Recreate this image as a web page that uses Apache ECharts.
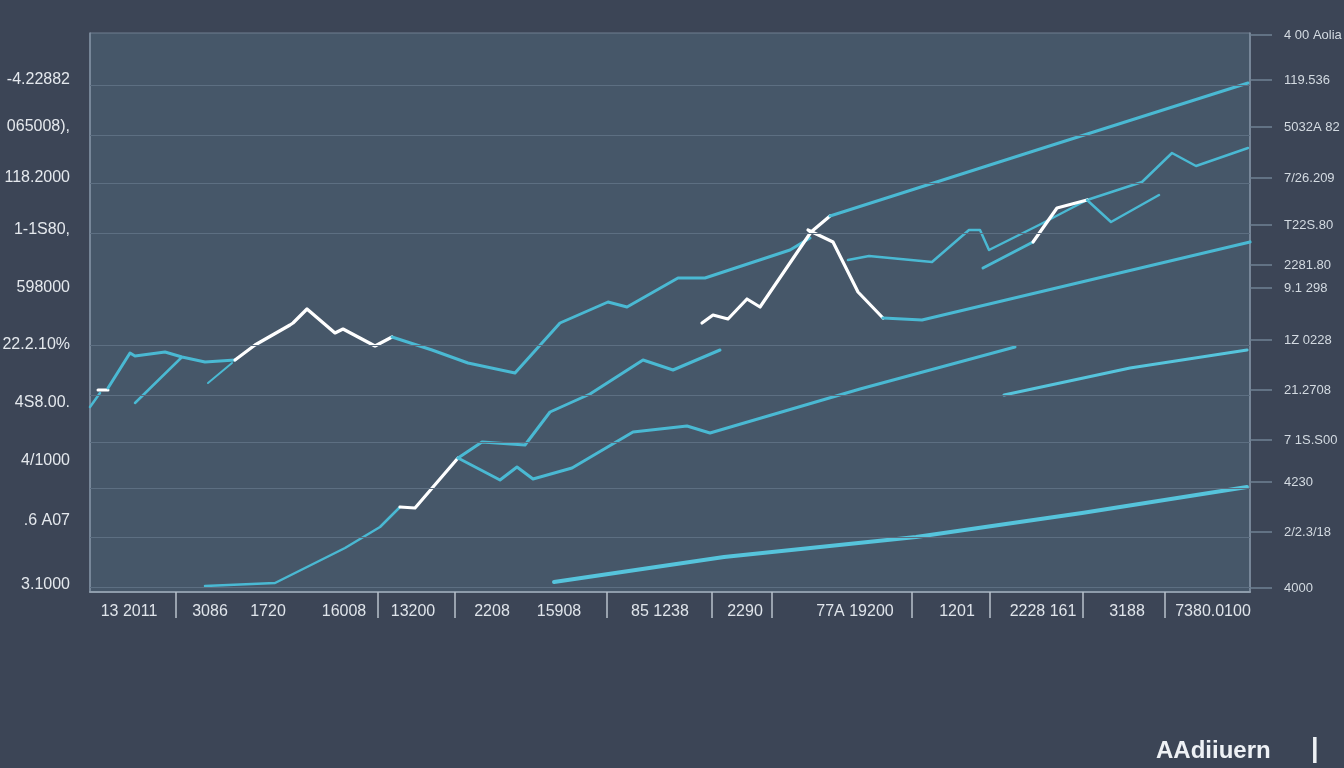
<!DOCTYPE html>
<html><head><meta charset="utf-8">
<script src="https://cdn.jsdelivr.net/npm/echarts@6/dist/echarts.min.js"></script>
<style>html,body{margin:0;padding:0;background:#3c4556;}#c{width:1344px;height:768px;}</style>
</head><body><div id="c"></div>
<script>
// ---- tick labels ----
const leftLabels = ['3.1000','.6 A07','4/1000','4S8.00.','22.2.10%','598000','1-1S80,','118.2000','065008),','-4.22882'];
const leftValues = [0.7,7.1,13.1,18.9,24.7,30.4,36.2,41.4,46.5,51.2];
const rightLabels = ['4000','2/2.3/18','4230','7 1S.S00','21.2708','1Z 0228','9.1 298','2281.80','T22S.80','7/26.209','5032A 82','119.536','4 00 Aolia'];
const rightValues = [0.4,6,11,15.2,20.2,25.2,30.4,32.7,36.7,41.4,46.5,51.2,55.7];
const bottomLabels = ['13 2011','3086','1720','16008','13200','2208','15908','85 1238','2290','77A 19200','1201','2228 161','3188','7380.0100'];
const bottomValues = [3.9,12,17.8,25.4,32.3,40.2,46.9,57,65.5,76.5,86.7,95.3,103.7,112.3];
const separatorValues = [8.6,28.8,36.5,51.7,62.2,68.2,82.2,90,99.3,107.5];
const gridValues = [0.5,5.5,10.4,15,19.7,24.7,35.9,40.9,45.7,50.7];

// ---- series values [x, y] ----
const upperLeftA = [[0,18.5],[1,19.9]];
const whiteTick = [[0.8,20.2],[1.8,20.2]];
const upperLeftB = [[1.8,20.4],[4,23.9],[4.5,23.6],[7.5,24],[9.2,23.5],[11.5,23],[14.5,23.2]];
const whiteHump = [[14.5,23.2],[16.5,24.7],[20,26.7],[20.3,26.9],[21.7,28.3],[24.5,25.9],[25.3,26.3],[28.5,24.6],[30.2,25.5]];
const upperMid = [[30.2,25.5],[34.2,24.2],[37.8,22.9],[42.5,21.9],[47,26.9],[51.8,29],[53.7,28.5],[58.8,31.4],[61.5,31.4],[70,34.2],[72,35.4]];
const whiteRise = [[61.2,26.9],[62.3,27.7],[63.8,27.3],[65.7,29.3],[67,28.5],[72.1,36],[74,37.6]];
const topTrend = [[74,37.6],[95,44.3],[115.8,50.9]];
const whiteFall = [[71.8,36.2],[74.3,35],[76.8,30],[79.3,27.4]];
const lowerTrend = [[79.3,27.4],[83.2,27.2],[100,31.2],[116,35]];
const midRight = [[75.8,33.2],[77.9,33.6],[84.2,33],[87.9,36.2],[89,36.2],[89.9,34.2],[94.9,36.7],[99.7,39.2],[105.2,41],[108.2,43.9],[110.6,42.6],[115.8,44.4]];
const branchA = [[89.3,32.4],[94.3,35]];
const whiteStep = [[94.3,35],[96.7,38.4],[99.7,39.2]];
const branchB = [[99.7,39.2],[102.1,37],[106.9,39.7]];
const risingA = [[11.5,0.6],[18.5,0.9],[25.5,4.4],[29,6.5],[31,8.5]];
const whiteClimb = [[31,8.5],[32.5,8.4],[36.8,13.4]];
const risingB = [[36.8,13.4],[39.2,15],[43.5,14.7],[46,18],[50,19.8],[55.3,23.2],[58.3,22.2],[63,24.2]];
const risingC = [[36.8,13.4],[41,11.2],[42.7,12.5],[44.3,11.3],[48.2,12.4],[54.3,16],[59.7,16.6],[62,15.9],[77,20.3],[92.5,24.5]];
const rightShort = [[91.4,19.7],[104,22.4],[115.7,24.2]];
const bottomTrend = [[46.4,1],[63.4,3.5],[82.6,5.5],[99.2,7.9],[115.7,10.5]];
const stubA = [[4.5,18.9],[9.2,23.5]];
const stubB = [[11.8,20.9],[14.2,22.9]];

const CY = '#4ab9d3', CY2 = '#56c4dc', WH = '#ffffff';
function line(data, color, width){
  return {type:'line', data, showSymbol:false, symbol:'none', z:3,
    lineStyle:{color, width, cap:'round', join:'round'}, silent:true, animation:false};
}
const series = [
  {type:'line', data:[], z:1, silent:true, markLine:{silent:true, symbol:['none','none'], label:{show:false},
    lineStyle:{color:'#5d6f82', width:1, type:'solid'}, data: gridValues.map(v=>({yAxis:v}))}},
  line(upperLeftA, CY, 2.5), line(whiteTick, WH, 3), line(upperLeftB, CY, 3),
  line(stubA, CY, 2.5), line(stubB, CY, 2),
  line(whiteHump, WH, 3.2), line(upperMid, CY, 3),
  line(whiteRise, WH, 3.2), line(topTrend, CY, 3), line(whiteFall, WH, 3.2),
  line(lowerTrend, CY, 3.2), line(midRight, CY, 2.5), line(branchA, CY, 3),
  line(whiteStep, WH, 3.2), line(branchB, CY, 2.5),
  line(risingA, CY, 2.5), line(whiteClimb, WH, 3.2), line(risingB, CY, 3),
  line(risingC, CY, 3), line(rightShort, CY2, 3.2), line(bottomTrend, CY2, 4)
];
function pick(vals, labels){ return v => { for(let i=0;i<vals.length;i++){ if(Math.abs(vals[i]-v)<1e-6) return labels[i]; } return ''; }; }

const chart = echarts.init(document.getElementById('c'), null, {renderer:'canvas'});
chart.setOption({
  backgroundColor: '#3c4556',
  animation:false,
  grid:{left:90, right:94, top:33, bottom:176, containLabel:false, outerBoundsMode:'none',
    show:true, backgroundColor:'#465769', borderColor:'#6f7f90', borderWidth:1},
  xAxis:{type:'value', min:0, max:116,
    splitLine:{show:false},
    axisLine:{show:true, lineStyle:{color:'#8e9cab', width:2}},
    axisTick:{show:true, customValues: separatorValues, length:26, lineStyle:{color:'#b8c1cb', width:1.5}},
    axisLabel:{customValues: bottomValues, formatter: pick(bottomValues, bottomLabels), color:'#dfe4ea', fontSize:16, margin:12, fontFamily:'Liberation Sans'}},
  yAxis:[
    {type:'value', position:'left', min:0, max:55.9, splitLine:{show:false},
      axisLine:{show:true, lineStyle:{color:'#8292a3', width:1.5}}, axisTick:{show:false},
      axisLabel:{customValues: leftValues, formatter: pick(leftValues, leftLabels), color:'#e4e8ed', fontSize:16, margin:20, fontFamily:'Liberation Sans'}},
    {type:'value', position:'right', min:0, max:55.9, splitLine:{show:false},
      axisLine:{show:true, lineStyle:{color:'#8292a3', width:1.5}},
      axisTick:{show:true, customValues: rightValues, length:22, lineStyle:{color:'#6f8194', width:1.5}},
      axisLabel:{customValues: rightValues, formatter: pick(rightValues, rightLabels), color:'#d3dae1', fontSize:13, margin:34, fontFamily:'Liberation Sans'}}
  ],
  series,
  graphic:[
    {type:'text', left:1156, top:739, style:{text:'AAdiiuern', fill:'#eef1f5', font:'bold 24px "Liberation Sans"'}},
    {type:'text', left:1311, top:736, style:{text:'|', fill:'#eef1f5', font:'bold 27px "Liberation Sans"'}}
  ]
});
</script></body></html>
